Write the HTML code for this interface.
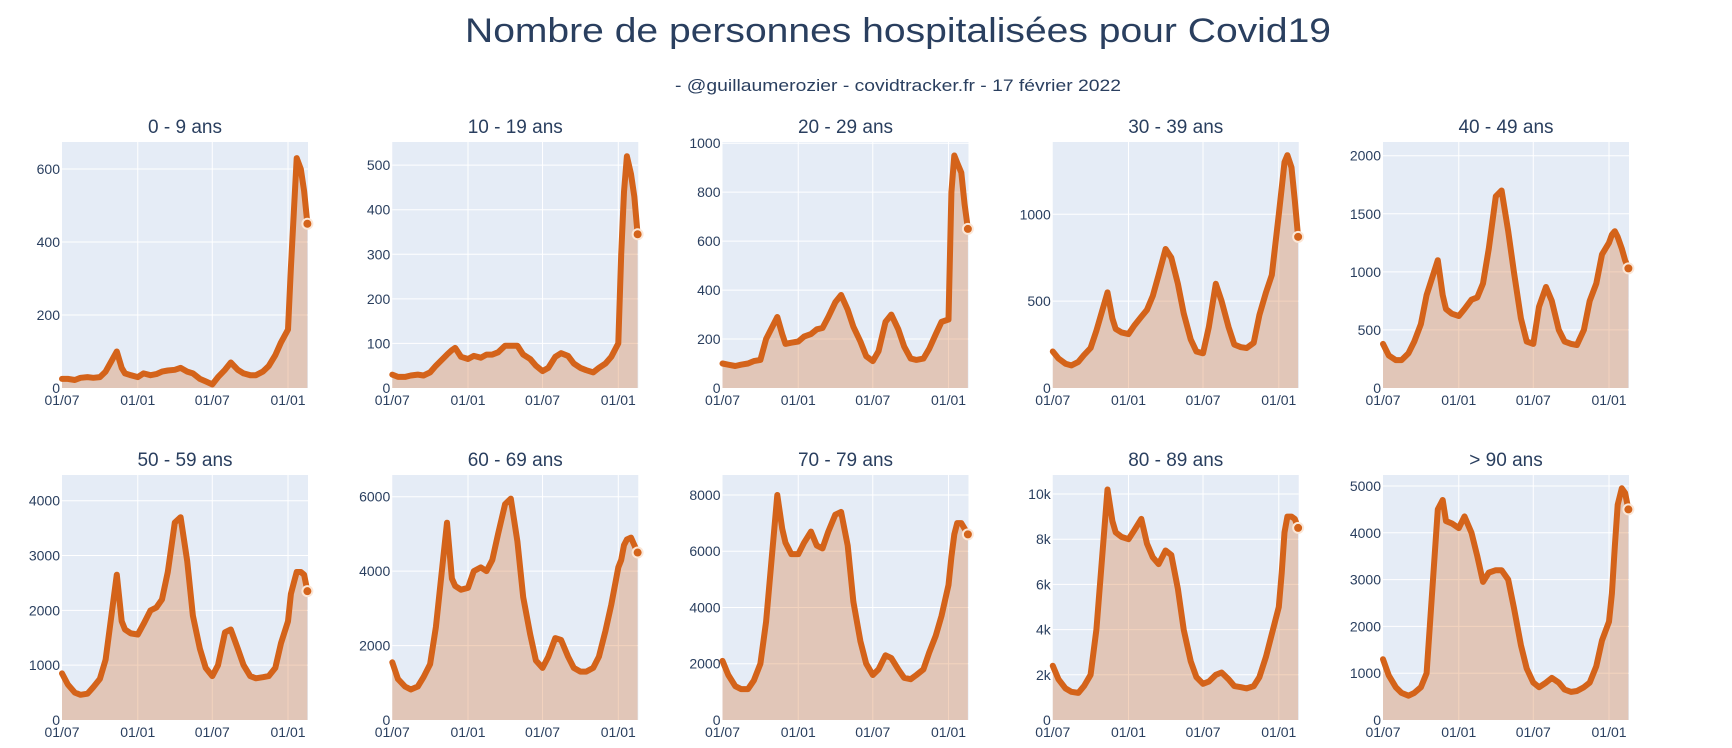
<!DOCTYPE html>
<html><head><meta charset="utf-8">
<style>
html,body{margin:0;padding:0;background:#fff;}
svg text{font-family:"Liberation Sans",sans-serif;fill:#2a3f5f;}
</style></head>
<body>
<svg id="chart" width="1732" height="743" viewBox="0 0 1732 743" xmlns="http://www.w3.org/2000/svg">
<text x="898" y="42" font-size="34" text-anchor="middle" textLength="866" lengthAdjust="spacingAndGlyphs">Nombre de personnes hospitalisées pour Covid19</text>
<text x="898" y="91" font-size="17" text-anchor="middle" textLength="446" lengthAdjust="spacingAndGlyphs">- @guillaumerozier - covidtracker.fr - 17 février 2022</text>
<g id="panels"></g>
</svg>
<script>
// day offsets from 2020-07-01
const days = [0,14,31,45,62,76,92,106,133,145,153,167,184,198,215,229,243,257,274,288,304,318,335,349,365,379,396,410,427,441,457,471,488,502,518,532,549,556,563,570,580,588,596];
const xTickDays = [0,184,365,549];
const xTickLabels = ["01/07","01/01","01/07","01/01"];
const panelTitles = ["0 - 9 ans","10 - 19 ans","20 - 29 ans","30 - 39 ans","40 - 49 ans","50 - 59 ans","60 - 69 ans","70 - 79 ans","80 - 89 ans","> 90 ans"];
const yMax = [674,552,1005,1416,2118,4469,6583,8711,10841,5235];
const yTicks0 = [0,200,400,600];
const yTicks1 = [0,100,200,300,400,500];
const yTicks2 = [0,200,400,600,800,1000];
const yTicks3 = [0,500,1000];
const yTicks4 = [0,500,1000,1500,2000];
const yTicks5 = [0,1000,2000,3000,4000];
const yTicks6 = [0,2000,4000,6000];
const yTicks7 = [0,2000,4000,6000,8000];
const yTicks8 = [0,2000,4000,6000,8000,10000];
const yTicks9 = [0,1000,2000,3000,4000,5000];
const yTickLabels8 = ["0","2k","4k","6k","8k","10k"];
const s0 = [25,25,22,28,30,28,30,45,100,55,40,35,30,40,35,38,45,48,50,55,45,40,25,18,10,30,50,70,50,40,35,35,45,60,90,125,160,330,480,630,600,540,450];
const s1 = [30,25,25,28,30,28,35,50,75,85,90,70,65,72,68,75,75,80,95,95,95,75,65,50,38,45,70,78,72,55,45,40,35,45,55,70,100,300,440,520,480,430,345];
const s2 = [100,95,90,95,100,110,115,200,290,220,180,185,190,210,220,240,245,290,350,380,320,250,190,130,110,150,270,300,240,170,120,115,120,160,220,270,280,800,950,920,880,750,650];
const s3 = [210,170,140,130,150,190,230,330,550,400,340,320,310,360,410,450,530,650,800,750,600,430,280,210,200,350,600,500,350,250,235,230,260,420,550,650,1000,1150,1300,1340,1270,1080,870];
const s4 = [380,280,240,240,300,400,550,800,1100,800,680,640,620,680,760,780,900,1200,1650,1700,1350,1000,600,400,380,700,870,750,500,400,380,370,500,750,900,1150,1250,1320,1350,1300,1200,1100,1030];
const s5 = [850,650,500,460,480,600,750,1100,2650,1800,1650,1580,1560,1750,2000,2050,2200,2700,3600,3700,2900,1900,1300,950,800,1000,1600,1650,1300,1000,800,760,780,800,950,1400,1800,2300,2500,2700,2700,2650,2350];
const s6 = [1550,1100,900,820,900,1150,1500,2500,5300,3800,3600,3500,3550,4000,4100,4000,4300,5000,5800,5950,4800,3300,2300,1600,1400,1700,2200,2150,1700,1400,1300,1300,1400,1700,2400,3100,4100,4300,4700,4850,4900,4700,4500];
const s7 = [2100,1600,1200,1100,1100,1400,2000,3500,8000,6800,6300,5900,5900,6300,6700,6200,6100,6700,7300,7400,6200,4200,2800,2000,1600,1800,2300,2200,1800,1500,1450,1600,1800,2400,3000,3700,4800,5800,6600,7000,7000,6800,6600];
const s8 = [2400,1800,1400,1250,1200,1500,2000,4000,10200,8800,8300,8100,8000,8400,8900,7800,7200,6900,7500,7300,5800,4000,2600,1900,1600,1700,2000,2100,1800,1500,1450,1400,1500,1900,2800,3800,5000,6500,8300,9000,9000,8900,8500];
const s9 = [1300,950,700,580,520,580,700,1000,4500,4700,4250,4200,4100,4350,4000,3500,2950,3150,3200,3200,3000,2400,1600,1100,800,700,800,900,800,650,600,620,700,800,1150,1700,2100,2700,3700,4600,4950,4850,4500];

const series = [s0,s1,s2,s3,s4,s5,s6,s7,s8,s9];
const ticksAll = [yTicks0,yTicks1,yTicks2,yTicks3,yTicks4,yTicks5,yTicks6,yTicks7,yTicks8,yTicks9];
const NS = "http://www.w3.org/2000/svg";
const root = document.getElementById("panels");
const W = 246, xDomain = 597.5;
function mk(tag, attrs, parent){const e=document.createElementNS(NS,tag);for(const k in attrs)e.setAttribute(k,attrs[k]);parent.appendChild(e);return e;}

for(let p=0;p<10;p++){
  const col=p%5,row=Math.floor(p/5);
  const L=62+col*330.25, T=row===0?142:475, H=row===0?246:245, B=T+H;
  const xs=d=>L+d/xDomain*W;
  const ys=v=>B-v/yMax[p]*H;
  const g=mk("g",{},root);
  
  
  const bg=mk("rect",{x:L,y:T,width:W,height:H,fill:"#e5ecf6"},g);
  
  
  const t=mk("text",{x:L+W/2,y:T-9,"font-size":19,"text-anchor":"middle"},g);
  t.textContent=panelTitles[p];
  
  
  xTickDays.forEach((d,i)=>{
    const x=xs(d);
    if(d>0){const gl=mk("line",{x1:x,x2:x,y1:T,y2:B,stroke:"#fff","stroke-width":1},g);
      
      }
    const lb=mk("text",{x:x,y:B+17,"font-size":14,"text-anchor":"middle"},g);
    lb.textContent=xTickLabels[i];
    
    
  });
  ticksAll[p].forEach((v,i)=>{
    const y=ys(v);
    if(v>0){const gl=mk("line",{x1:L,x2:L+W,y1:y,y2:y,stroke:"#fff","stroke-width":1},g);
      
      }
    const lb=mk("text",{x:L-2,y:y+5,"font-size":14,"text-anchor":"end"},g);
    lb.textContent=p===8?yTickLabels8[i]:String(v);
    
    
  });
  const s=series[p];
  let pts=s.map((v,i)=>xs(days[i]).toFixed(1)+","+ys(v).toFixed(1));
  const area=mk("path",{d:"M"+xs(days[0])+","+B+" L"+pts.join(" L")+" L"+xs(days[days.length-1])+","+B+" Z",fill:"rgba(214,110,40,0.3)"},g);
  
  
  const ln=mk("path",{d:"M"+pts.join(" L"),fill:"none",stroke:"#d4631a","stroke-width":6,"stroke-linejoin":"round","stroke-linecap":"round"},g);
  
  
  const last=s.length-1;
  const c=mk("circle",{cx:xs(days[last]),cy:ys(s[last]),r:5,fill:"#d4631a",stroke:"#fbe6d6","stroke-width":2},g);
  
  
}
</script>
</body></html>
